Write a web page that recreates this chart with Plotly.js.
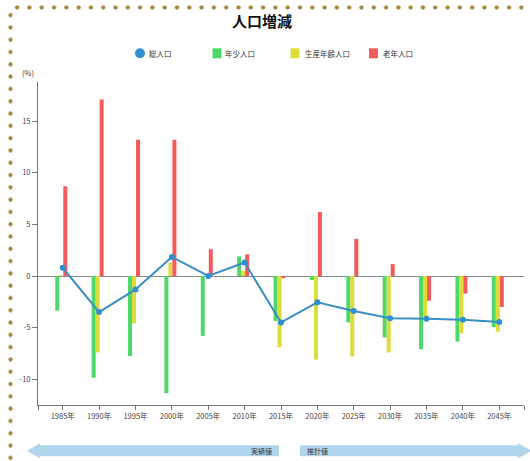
<!DOCTYPE html>
<html>
<head>
<meta charset="utf-8">
<script src="https://cdn.plot.ly/plotly-3.0.1.min.js"></script>
<style>
  html, body { margin: 0; padding: 0; background: #fff; }
  #wrap { position: relative; width: 530px; height: 461px; overflow: hidden; }
  #chart { position: absolute; left: 0; top: 0; width: 530px; height: 461px; }
  .dots-top { position: absolute; left: 11px; top: 1px; width: 519px; height: 13px;
    background-image: radial-gradient(circle, #a8873f 1.8px, rgba(255,255,255,0) 2.4px);
    background-size: 12.3px 13px; background-repeat: repeat-x; z-index: 2; pointer-events: none; }
  .dots-left { position: absolute; left: 4px; top: 9px; width: 13px; height: 452px;
    background-image: radial-gradient(circle, #a8873f 1.8px, rgba(255,255,255,0) 2.4px);
    background-size: 13px 12.3px; background-repeat: repeat-y; z-index: 2; pointer-events: none; }
</style>
</head>
<body>
<div id="wrap">
  <div id="chart"></div>
  <div class="dots-top"></div>
  <div class="dots-left"></div>
</div>
<script>
// ---- data ----
const years = [1985, 1990, 1995, 2000, 2005, 2010, 2015, 2020, 2025, 2030, 2035, 2040, 2045];
const yearLabels = ["1985年","1990年","1995年","2000年","2005年","2010年","2015年","2020年","2025年","2030年","2035年","2040年","2045年"];
const totalPop   = [0.8, -3.5, -1.3, 1.85, 0.0, 1.3, -4.5, -2.55, -3.4, -4.1, -4.15, -4.25, -4.45];
const youngPop   = [-3.35, -9.85, -7.75, -11.35, -5.8, 1.9, -4.35, -0.4, -4.5, -5.95, -7.1, -6.35, -4.95];
const workingPop = [0.05, -7.4, -4.6, 1.3, -0.1, 0.5, -6.9, -8.1, -7.8, -7.4, -4.0, -5.55, -5.4];
const elderlyPop = [8.7, 17.1, 13.2, 13.2, 2.6, 2.1, -0.2, 6.2, 3.6, 1.15, -2.4, -1.7, -3.0];
const seriesNames = ["総人口", "年少人口", "生産年齢人口", "老年人口"];
const yTicks = [-10, -5, 0, 5, 10, 15];

// ---- layout helpers (pixel -> paper) ----
const W = 530, H = 461;
const M = {l: 38, r: 6, t: 82, b: 56};
const PW = W - M.l - M.r, PH = H - M.t - M.b;
const px = X => (X - M.l) / PW;
const py = Y => (H - M.b - Y) / PH;

const FONT = '"Noto Sans CJK JP", "Noto Sans", sans-serif';
const C = {total: '#2f8fd0', line: '#3b8fc2', young: '#4dd867', working: '#dcdc3a', elderly: '#f35b5b'};

const xMin = 1981.6, xMax = 2048.4;
const bw = 0.55;
const shift = -0.2;

const traces = [
  {type: 'bar', name: seriesNames[1], x: years, y: youngPop, width: bw, offset: -1.5*bw + shift,
   marker: {color: C.young}, showlegend: false, hoverinfo: 'x+y'},
  {type: 'bar', name: seriesNames[2], x: years, y: workingPop, width: bw, offset: -0.5*bw + shift,
   marker: {color: C.working}, showlegend: false, hoverinfo: 'x+y'},
  {type: 'bar', name: seriesNames[3], x: years, y: elderlyPop, width: bw, offset: 0.5*bw + shift,
   marker: {color: C.elderly}, showlegend: false, hoverinfo: 'x+y'},
  {type: 'scatter', mode: 'lines+markers', name: seriesNames[0], x: years, y: totalPop,
   line: {color: C.line, width: 2}, marker: {color: C.total, size: 6}, showlegend: false}
];

// custom legend
const legendItems = [
  {kind: 'circle', color: C.total, x0: 135, x1: 145, tx: 147, name: seriesNames[0]},
  {kind: 'rect', color: C.young, x0: 212.5, x1: 221.5, tx: 223, name: seriesNames[1]},
  {kind: 'rect', color: C.working, x0: 290.5, x1: 299.5, tx: 303, name: seriesNames[2]},
  {kind: 'rect', color: C.elderly, x0: 369, x1: 378, tx: 381, name: seriesNames[3]}
];
const shapes = [];
const annotations = [];
legendItems.forEach(it => {
  shapes.push({type: it.kind, xref: 'paper', yref: 'paper',
    x0: px(it.x0), x1: px(it.x1), y0: py(48.3), y1: py(58.3),
    fillcolor: it.color, line: {width: 0}});
  annotations.push({xref: 'paper', yref: 'paper', x: px(it.tx), y: py(53.3),
    xanchor: 'left', yanchor: 'middle', text: it.name, showarrow: false,
    font: {family: FONT, size: 7.5, color: '#333'}});
});

// (%) unit label
annotations.push({xref: 'paper', yref: 'paper', x: px(20), y: py(73), xanchor: 'left', yanchor: 'middle',
  text: '(%)', showarrow: false, font: {family: FONT, size: 7.5, color: '#333'}});

// bottom arrows
const pathL = `M ${px(27)} ${py(450.7)} L ${px(40)} ${py(443.3)} L ${px(40)} ${py(445.3)} L ${px(279)} ${py(445.3)} L ${px(279)} ${py(456.2)} L ${px(40)} ${py(456.2)} L ${px(40)} ${py(458.3)} Z`;
const pathR = `M ${px(300)} ${py(445.3)} L ${px(518)} ${py(445.3)} L ${px(518)} ${py(443.3)} L ${px(532)} ${py(450.7)} L ${px(518)} ${py(458.3)} L ${px(518)} ${py(456.2)} L ${px(300)} ${py(456.2)} Z`;
shapes.push({type: 'path', xref: 'paper', yref: 'paper', path: pathL, fillcolor: '#afd5ec', line: {width: 0}});
shapes.push({type: 'path', xref: 'paper', yref: 'paper', path: pathR, fillcolor: '#afd5ec', line: {width: 0}});
annotations.push({xref: 'paper', yref: 'paper', x: px(274), y: py(451), xanchor: 'right', yanchor: 'middle',
  text: '実績値', showarrow: false, font: {family: FONT, size: 7, color: '#333'}});
annotations.push({xref: 'paper', yref: 'paper', x: px(305), y: py(451), xanchor: 'left', yanchor: 'middle',
  text: '推計値', showarrow: false, font: {family: FONT, size: 7, color: '#333'}});

const layout = {
  width: W, height: H,
  margin: M,
  paper_bgcolor: '#fff', plot_bgcolor: '#fff',
  barmode: 'overlay',
  showlegend: false,
  title: {text: '<b>人口増減</b>', x: 262 / W, xref: 'container', xanchor: 'center',
          y: 1 - 22 / H, yref: 'container', yanchor: 'middle',
          font: {family: FONT, size: 15, color: '#111'}},
  xaxis: {
    type: 'linear', range: [xMin, xMax], fixedrange: true,
    tickmode: 'array', tickvals: [xMin].concat(years, [xMax]), ticktext: [''].concat(yearLabels, ['']),
    showgrid: false, zeroline: false,
    showline: true, linecolor: '#777', linewidth: 1,
    ticks: 'outside', ticklen: 4, tickcolor: '#777', tickwidth: 1,
    tickfont: {family: FONT, size: 7.5, color: '#444'}
  },
  yaxis: {
    range: [-12.5, 18.8], fixedrange: true,
    tickmode: 'array', tickvals: yTicks, ticktext: yTicks.map(String),
    showgrid: false, zeroline: true, zerolinecolor: '#888', zerolinewidth: 1,
    showline: true, linecolor: '#777', linewidth: 1,
    ticks: 'outside', ticklen: 5, tickcolor: '#777', tickwidth: 1,
    tickfont: {family: FONT, size: 7.5, color: '#444'}
  },
  shapes: shapes,
  annotations: annotations
};

Plotly.newPlot('chart', traces, layout, {displayModeBar: false, staticPlot: true});
</script>
</body>
</html>
